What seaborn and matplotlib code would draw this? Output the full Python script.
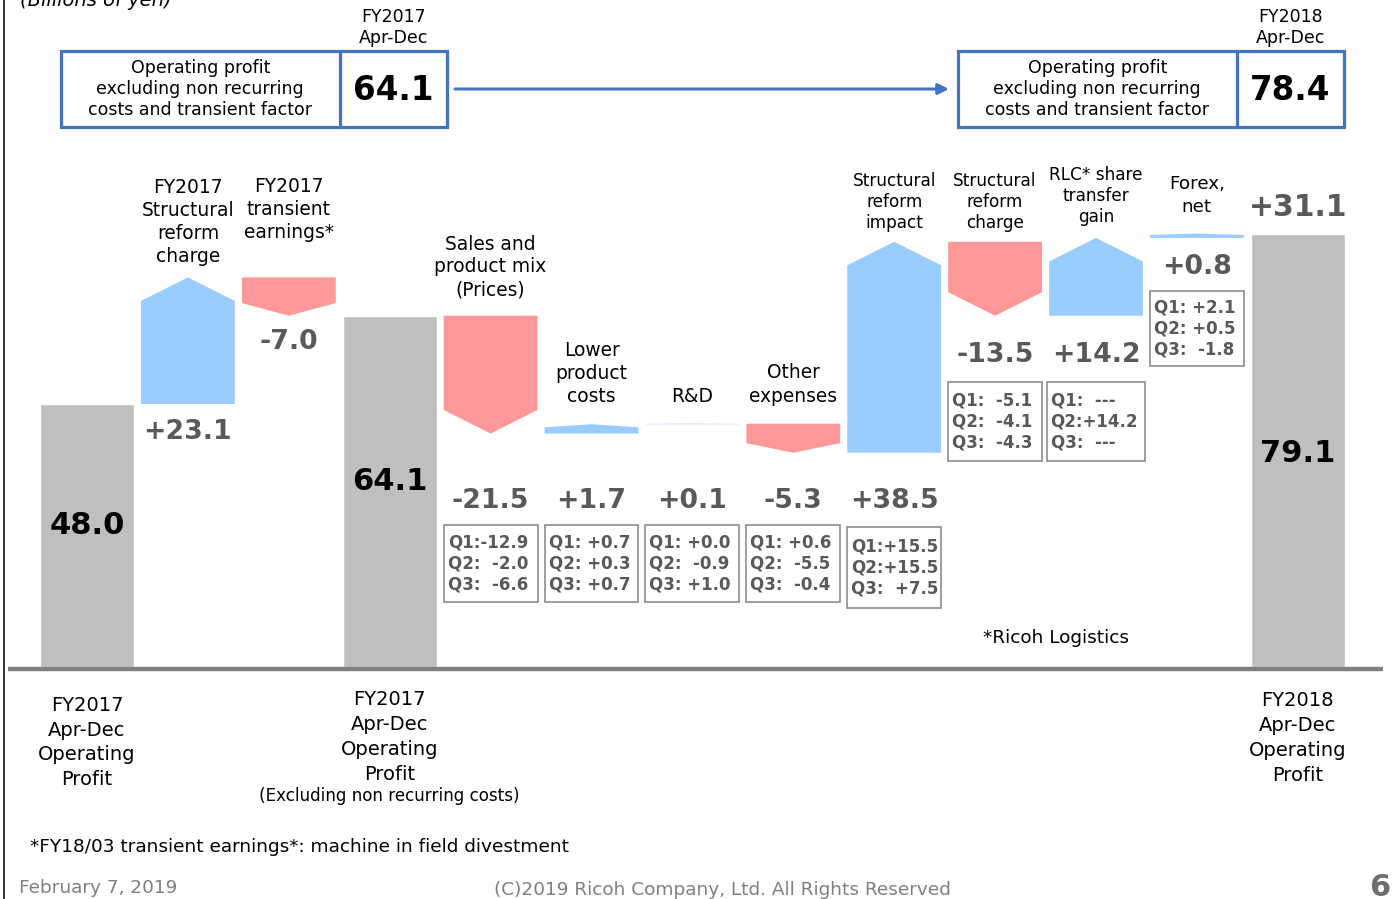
import matplotlib
matplotlib.use("Agg")
import matplotlib.pyplot as plt
from matplotlib.patches import Polygon, Rectangle
import pandas as pd
import seaborn as sns

# ---------------------------------------------------------------- data
start_label = "FY2017\nApr-Dec\nOperating\nProfit"
mid_label = "FY2017\nApr-Dec\nOperating\nProfit"
end_label = "FY2018\nApr-Dec\nOperating\nProfit"

total_steps = [
    "FY2017 Apr-Dec Operating Profit",
    "FY2017 Apr-Dec Operating Profit (Excluding non recurring costs)",
    "FY2018 Apr-Dec Operating Profit",
]
total_values = [48.0, 64.1, 79.1]

change_labels = [
    "FY2017\nStructural\nreform\ncharge",
    "FY2017\ntransient\nearnings*",
    "Sales and\nproduct mix\n(Prices)",
    "Lower\nproduct\ncosts",
    "R&D",
    "Other\nexpenses",
    "Structural\nreform\nimpact",
    "Structural\nreform\ncharge",
    "RLC* share\ntransfer\ngain",
    "Forex,\nnet",
]
change_values = [23.1, -7.0, -21.5, 1.7, 0.1, -5.3, 38.5, -13.5, 14.2, 0.8]

# quarterly breakdown of the operating changes (None = no amount)
quarter_steps = change_labels[2:]
q1 = [-12.9, 0.7, 0.0, 0.6, 15.5, -5.1, None, 2.1]
q2 = [-2.0, 0.3, -0.9, -5.5, 15.5, -4.1, 14.2, 0.5]
q3 = [-6.6, 0.7, 1.0, -0.4, 7.5, -4.3, None, -1.8]

headline_periods = ["FY2017\nApr-Dec", "FY2018\nApr-Dec"]
headline_values = [64.1, 78.4]
headline_caption = "Operating profit\nexcluding non recurring\ncosts and transient factor"

change_names = [s.replace("\n", " ") for s in change_labels]
steps = ([total_steps[0]] + change_names[:2] + [total_steps[1]]
         + change_names[2:] + [total_steps[2]])

# ---------------------------------------------------------------- style
GRAY = "#BFBFBF"
UP = "#99CCFF"
DOWN = "#FF9999"
BLUE = "#4472C4"
VAL = "#595959"
FOOT = "#7F7F7F"
BAR_W = 0.93
FONT = "DejaVu Sans"

sns.set_theme(style="white")
plt.rcParams["font.family"] = [FONT]

W, H = 1399, 899
Y0_PX, PX_PER_UNIT = 667.0, 5.48
X0_PX, PX_PER_STEP = 87.0, 100.9


def xd(px):
    return (px - X0_PX) / PX_PER_STEP


def yd(py):
    return (Y0_PX - py) / PX_PER_UNIT


fig = plt.figure(figsize=(W / 100, H / 100), dpi=100)
ax = fig.add_axes([0, 0, 1, 1])

# totals as grey bars on the categorical axis
totals_df = pd.DataFrame({"step": total_steps, "value": total_values})
sns.barplot(data=totals_df, x="step", y="value", order=steps, color=GRAY,
            saturation=1, width=BAR_W, errorbar=None, ax=ax, zorder=2)
ax.set_xlim(xd(0), xd(W))
ax.set_ylim(yd(H), yd(0))
ax.axis("off")


def stack(x, yc, text, gap, ha="center", **kw):
    """Draw multi-line text line by line, centred on yc (pixels)."""
    lines = text.split("\n")
    n = len(lines)
    for k, line in enumerate(lines):
        ax.text(x, yd(yc + (k - (n - 1) / 2) * gap), line, ha=ha,
                va="center", **kw)


# waterfall arrows
def arrow(i, y0, y1, color):
    length = abs(y1 - y0)
    head = min(0.33 * length, 4.3)
    hw = BAR_W / 2
    if y1 >= y0:
        pts = [(i - hw, y0), (i + hw, y0), (i + hw, y1 - head), (i, y1), (i - hw, y1 - head)]
    else:
        pts = [(i - hw, y0), (i + hw, y0), (i + hw, y1 + head), (i, y1), (i - hw, y1 + head)]
    ax.add_patch(Polygon(pts, closed=True, fc=color, ec="none", lw=0, zorder=2))


change_pos = [i for i, s in enumerate(steps) if s not in total_steps]
level = total_values[0]
for i, v in zip(change_pos, change_values):
    arrow(i, level, level + v, UP if v > 0 else DOWN)
    level += v

# category captions above the arrows
cap_y = [222, 209.5, 267, 373.5, 397, 385, 202, 202, 196, 195.5]
cap_size = [13.4, 13.4, 13.4, 13.4, 13.4, 13.4, 12.2, 12.2, 12.2, 13.2]
cap_gap = [23.3, 23.3, 23.0, 23.3, 23.3, 24.0, 20.5, 21.0, 21.0, 23.0]
for i, lab, y, fs, g in zip(change_pos, change_labels, cap_y, cap_size, cap_gap):
    stack(i, y, lab, g, fontsize=fs, color="black")

# change values
val_y = [432, 342, 501, 501, 501, 501, 501, 355, 355, 267]
for i, v, y in zip(change_pos, change_values, val_y):
    ax.text(i, yd(y), f"{v:+.1f}", ha="center", va="center", fontsize=19.3,
            fontweight="bold", color=VAL, zorder=4)

# totals inside the grey bars
tot_pos = [steps.index(s) for s in total_steps]
tot_y = [525, 481, 454]
for i, v, y in zip(tot_pos, total_values, tot_y):
    ax.text(i, yd(y), f"{v:.1f}", ha="center", va="center", fontsize=22,
            fontweight="bold", color="black", zorder=4)

# overall change above the final bar
ax.text(tot_pos[2], yd(207), f"{total_values[2] - total_values[0]:+.1f}",
        ha="center", va="center", fontsize=21.5, fontweight="bold", color=VAL)


# quarterly breakdown boxes
def fmt_q(tag, v, wide):
    if v is None:
        return f"{tag}:  ---"
    if abs(v) >= 10:
        pad = ""
    elif v < 0 or wide:
        pad = "  "
    else:
        pad = " "
    return f"{tag}:{pad}{v:+.1f}"


box_top = [525, 525, 525, 525, 527, 382, 382, 291]
box_h = [77, 77, 77, 77, 81, 79, 79, 75]
box_pad = [0, 0, 0, 0, 0, 0, 2.5, 0]
for name, a, b, c, top, bh, bp in zip(quarter_steps, q1, q2, q3, box_top, box_h, box_pad):
    i = change_pos[change_labels.index(name)]
    vals = [a, b, c]
    wide = any(v is not None and abs(v) >= 10 for v in vals)
    bw = BAR_W + 2 * bp / PX_PER_STEP
    left = i - bw / 2
    ax.add_patch(Rectangle((left, yd(top + bh)), bw, bh / PX_PER_UNIT,
                           fill=False, ec="#8C8C8C", lw=1.2, zorder=3))
    for k, (tag, v) in enumerate(zip(["Q1", "Q2", "Q3"], vals)):
        ax.text(left + 4 / PX_PER_STEP, yd(top + bh / 2 + (k - 1) * 21),
                fmt_q(tag, v, wide), ha="left", va="center", fontsize=12.0,
                fontweight="bold", color=VAL, zorder=4)

# baseline and left rule
ax.plot([xd(8), xd(1383)], [yd(669), yd(669)], color="#808080", lw=3.2,
        solid_capstyle="butt", zorder=3)
ax.plot([xd(4), xd(4)], [yd(0), yd(H)], color="#222222", lw=1.3)

# labels under the grey bars
stack(tot_pos[0], 742.5, start_label, 24.5, fontsize=14, color="black")
stack(tot_pos[1], 737, mid_label, 24.7, fontsize=14, color="black")
ax.text(tot_pos[1], yd(796), "(Excluding non recurring costs)", ha="center",
        va="center", fontsize=12.1, color="black")
stack(tot_pos[2], 738, end_label, 25.3, fontsize=14, color="black")

# headline boxes with connecting arrow
box_x = [(60.5, 340, 446.5), (957.5, 1237, 1343.5)]
for (l, mid, r), per, v in zip(box_x, headline_periods, headline_values):
    ax.add_patch(Rectangle((xd(l), yd(126.5)), xd(r) - xd(l), yd(50.5) - yd(126.5),
                           fill=False, ec=BLUE, lw=2.3, zorder=3))
    ax.plot([xd(mid), xd(mid)], [yd(50.5), yd(126.5)], color=BLUE, lw=2.3, zorder=3)
    stack(xd((l + mid) / 2), 89, headline_caption, 21, fontsize=12.5, color="black")
    ax.text(xd((mid + r) / 2), yd(91), f"{v:.1f}", ha="center", va="center",
            fontsize=23.5, fontweight="bold", color="black")
    stack(xd((mid + r) / 2), 27.5, per, 21, fontsize=12.5, color="black")

ax.annotate("", xy=(xd(949), yd(89)), xytext=(xd(455), yd(89)),
            arrowprops=dict(arrowstyle="-|>", color=BLUE, lw=2.2,
                            mutation_scale=16, shrinkA=0, shrinkB=0))

# unit, notes and footer
ax.text(xd(20), yd(0), "(Billions of yen)", ha="left", va="center",
        fontsize=14, fontstyle="italic", color="black")
ax.text(xd(983), yd(638), "*Ricoh Logistics", ha="left", va="center",
        fontsize=13.3, color="black")
ax.text(xd(30), yd(847), "*FY18/03 transient earnings*: machine in field divestment",
        ha="left", va="center", fontsize=13.3, color="black")
ax.text(xd(19), yd(888), "February 7, 2019", ha="left", va="center",
        fontsize=13.3, color=FOOT)
ax.text(xd(722), yd(890), "(C)2019 Ricoh Company, Ltd. All Rights Reserved",
        ha="center", va="center", fontsize=13.3, color=FOOT)
ax.text(xd(1380), yd(887), "6", ha="center", va="center", fontsize=22,
        fontweight="bold", color="#6E6E6E")

fig.savefig("out.png", dpi=100)
